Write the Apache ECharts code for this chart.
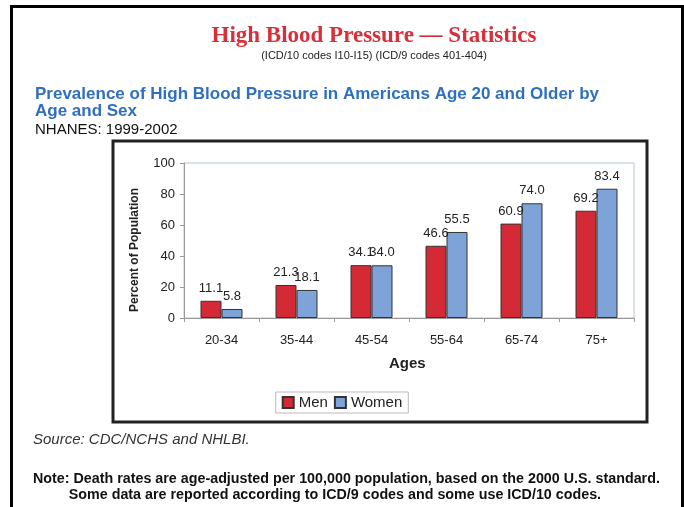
<!DOCTYPE html>
<html>
<head>
<meta charset="utf-8">
<script src="https://cdn.jsdelivr.net/npm/echarts@6/dist/echarts.min.js"></script>
<style>
html, body { margin: 0; padding: 0; background: #fff; }
#main { width: 684px; height: 507px; }
</style>
</head>
<body>
<div id="main"></div>
<script>
// 数据
var ages = ['20-34', '35-44', '45-54', '55-64', '65-74', '75+'];
var men = [11.1, 21.3, 34.1, 46.6, 60.9, 69.2];
var women = [5.8, 18.1, 34.0, 55.5, 74.0, 83.4];
var yTicks = [0, 20, 40, 60, 80, 100];

var chart = echarts.init(document.getElementById('main'));

var barLabel = {
    show: true,
    position: 'top',
    distance: 6,
    color: '#222',
    fontFamily: 'Liberation Sans',
    fontSize: 13,
    formatter: function (p) { return p.value.toFixed(1) }
};

var option = {
    animation: false,
    backgroundColor: '#fff',
    title: [
        {
            text: 'High Blood Pressure — Statistics',
            left: 369, top: 20, textAlign: 'center',
            textStyle: { color: '#d8303a', fontFamily: 'Liberation Serif', fontSize: 23, fontWeight: 'bold' }
        },
        {
            text: '(ICD/10 codes I10-I15) (ICD/9 codes 401-404)',
            left: 369, top: 45, textAlign: 'center',
            textStyle: { color: '#222', fontFamily: 'Liberation Sans', fontSize: 11, fontWeight: 'normal' }
        },
        {
            text: 'Prevalence of High Blood Pressure in Americans Age 20 and Older by\nAge and Sex',
            left: 30, top: 81,
            textStyle: { color: '#2f6fbf', fontFamily: 'Liberation Sans', fontSize: 17, fontWeight: 'bold', lineHeight: 17 }
        },
        {
            text: 'NHANES: 1999-2002',
            left: 30, top: 117,
            textStyle: { color: '#111', fontFamily: 'Liberation Sans', fontSize: 15, fontWeight: 'normal' }
        },
        {
            text: 'Source: CDC/NCHS and NHLBI.',
            left: 28, top: 427,
            textStyle: { color: '#333', fontFamily: 'Liberation Sans', fontSize: 15, fontStyle: 'italic', fontWeight: 'normal' }
        },
        {
            text: 'Note: Death rates are age-adjusted per 100,000 population, based on the 2000 U.S. standard.\n         Some data are reported according to ICD/9 codes and some use ICD/10 codes.',
            left: 28, top: 466,
            textStyle: { color: '#111', fontFamily: 'Liberation Sans', fontSize: 14.3, fontWeight: 'bold', lineHeight: 16 }
        }
    ],
    graphic: [
        // 外框
        { type: 'rect', shape: { x: 11.5, y: 6.5, width: 671, height: 520 }, style: { fill: null, stroke: '#000', lineWidth: 3 } },
        // 图表框
        { type: 'rect', shape: { x: 113, y: 141, width: 534, height: 281 }, style: { fill: null, stroke: '#222', lineWidth: 3 } },
        {
            type: 'text', left: 389, top: 356,
            style: { text: 'Ages', fill: '#222', font: 'bold 15px "Liberation Sans"' }
        },
        // y轴标题
        {
            type: 'text', x: 135, y: 250, rotation: Math.PI / 2,
            style: { text: 'Percent of Population', fill: '#222', font: 'bold 12px "Liberation Sans"', textAlign: 'center', textVerticalAlign: 'middle' }
        }
    ],
    legend: {
        data: ['Men', 'Women'],
        left: 'center',
        top: 392,
        itemWidth: 11, itemHeight: 11, itemGap: 6,
        padding: [3, 6],
        borderColor: '#bbb', borderWidth: 1,
        textStyle: { color: '#222', fontFamily: 'Liberation Sans', fontSize: 15 },
        icon: 'rect'
    },
    grid: {
        left: 184, right: 50, top: 163, bottom: 189,
        show: true, borderColor: '#b8c4d8', borderWidth: 1
    },
    xAxis: {
        type: 'category',
        data: ages,
        axisLine: { lineStyle: { color: '#999' } },
        axisTick: { show: true, length: 4, lineStyle: { color: '#999' } },
        axisLabel: { color: '#222', fontFamily: 'Liberation Sans', fontSize: 13, margin: 16 }
    },
    yAxis: {
        type: 'value',
        min: yTicks[0], max: yTicks[yTicks.length - 1], interval: 20,
        axisLine: { show: true, lineStyle: { color: '#999' } },
        axisTick: { show: true, length: 4, lineStyle: { color: '#999' } },
        splitLine: { show: false },
        axisLabel: { color: '#222', fontFamily: 'Liberation Sans', fontSize: 13, margin: 9 }
    },
    series: [
        {
            name: 'Men', type: 'bar', data: men,
            barGap: '0%', barCategoryGap: '44%',
            itemStyle: { color: '#d42a35', borderColor: '#333', borderWidth: 1 },
            label: barLabel
        },
        {
            name: 'Women', type: 'bar', data: women,
            itemStyle: { color: '#7ea3d9', borderColor: '#333', borderWidth: 1 },
            label: barLabel
        }
    ]
};
chart.setOption(option);
</script>
</body>
</html>
